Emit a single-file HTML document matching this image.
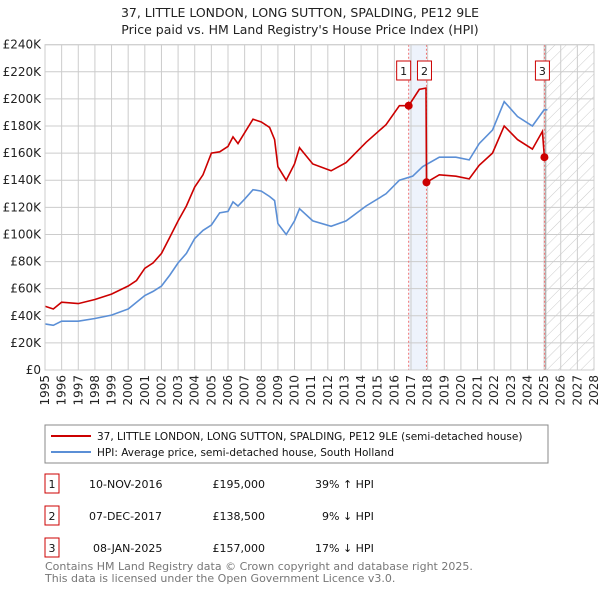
<!DOCTYPE html>
<html><head><meta charset="utf-8"><style>
body{margin:0;width:600px;height:590px;background:#fff;font-family:"DejaVu Sans","Liberation Sans",sans-serif;overflow:hidden}
svg text{font-family:"DejaVu Sans","Liberation Sans",sans-serif}
</style></head><body>
<svg id="c" width="600" height="590" xmlns="http://www.w3.org/2000/svg">
<defs><pattern id="hatch" width="8" height="8" patternUnits="userSpaceOnUse" patternTransform="rotate(45)"><line x1="0" y1="0" x2="0" y2="8" stroke="#ccc" stroke-width="1"/></pattern></defs>
<text x="300" y="17" text-anchor="middle" font-size="12.5" fill="#222">37, LITTLE LONDON, LONG SUTTON, SPALDING, PE12 9LE</text>
<text x="300" y="34" text-anchor="middle" font-size="12.5" fill="#222">Price paid vs. HM Land Registry's House Price Index (HPI)</text>
<g id="grid"></g><g id="marks"></g><g id="axes"></g>
<rect x="45" y="425" width="503" height="38" fill="#fff" stroke="#888"/>
<line x1="51" y1="436" x2="91" y2="436" stroke="#cc0000" stroke-width="2"/>
<text x="97" y="440" font-size="10.5" fill="#111">37, LITTLE LONDON, LONG SUTTON, SPALDING, PE12 9LE (semi-detached house)</text>
<line x1="51" y1="452" x2="91" y2="452" stroke="#5b8fd6" stroke-width="2"/>
<text x="97" y="456" font-size="10.5" fill="#111">HPI: Average price, semi-detached house, South Holland</text>
<g font-size="11" fill="#111">
<rect x="45" y="474" width="14" height="19" fill="none" stroke="#cc0000"/><text x="52" y="488" text-anchor="middle">1</text>
<text x="89" y="488">10-NOV-2016</text><text x="265" y="488" text-anchor="end">£195,000</text><text x="315" y="488">39% ↑ HPI</text>
<rect x="45" y="506" width="14" height="19" fill="none" stroke="#cc0000"/><text x="52" y="520" text-anchor="middle">2</text>
<text x="89" y="520">07-DEC-2017</text><text x="265" y="520" text-anchor="end">£138,500</text><text x="322" y="520">9% ↓ HPI</text>
<rect x="45" y="538" width="14" height="19" fill="none" stroke="#cc0000"/><text x="52" y="552" text-anchor="middle">3</text>
<text x="93" y="552">08-JAN-2025</text><text x="265" y="552" text-anchor="end">£157,000</text><text x="315" y="552">17% ↓ HPI</text>
</g>
<text x="45" y="570" font-size="11" fill="#777">Contains HM Land Registry data © Crown copyright and database right 2025.</text>
<text x="45" y="582" font-size="11" fill="#777">This data is licensed under the Open Government Licence v3.0.</text>
</svg>
<script>
const hpiYears=[1995,1995.5,1996,1997,1998,1999,2000,2001,2001.5,2002,2002.5,2003,2003.5,2004,2004.5,2005,2005.5,2006,2006.3,2006.6,2007,2007.5,2008,2008.5,2008.8,2009,2009.5,2010,2010.3,2011.1,2012.2,2013.1,2014.3,2015.5,2016.3,2017.1,2017.7,2018.7,2019.7,2020.5,2021.1,2021.9,2022.6,2023.4,2024.3,2025.0,2025.2];
const hpiValues=[34,33,36,36,38,40.5,45,55,58,62,70,79,86,97,103,107,116,117,124,121,126,133,132,128,125,108,100,110,119,110,106,110,121,130,140,143,150,157,157,155,167,177,198,187,180,192,192];
const priceYears=[1995,1995.5,1996,1997,1998,1999,2000,2000.5,2001,2001.5,2002,2002.5,2003,2003.5,2004,2004.5,2005,2005.5,2006,2006.3,2006.6,2007,2007.5,2008,2008.5,2008.8,2009,2009.5,2010,2010.3,2011.1,2012.2,2013.1,2014.3,2015.5,2016.3,2016.86,2017.5,2017.9,2017.93,2018.7,2019.7,2020.5,2021.1,2021.9,2022.6,2023.4,2024.3,2024.9,2025.02,2025.2];
const priceValues=[47,45,50,49,52,56,62,66,75,79,86,98,110,121,135,144,160,161,165,172,167,175,185,183,179,170,150,140,152,164,152,147,153,168,181,195,195,207,208,138.5,144,143,141,151,160,180,170,163,176,157,157];
const saleYears=[2016.86,2017.93,2025.02];
const saleValues=[195,138.5,157];
const saleLabels=["1","2","3"];
const yTicks=[0,20,40,60,80,100,120,140,160,180,200,220,240];
const xTicks=[1995,1996,1997,1998,1999,2000,2001,2002,2003,2004,2005,2006,2007,2008,2009,2010,2011,2012,2013,2014,2015,2016,2017,2018,2019,2020,2021,2022,2023,2024,2025,2026,2027,2028];
const NS="http://www.w3.org/2000/svg";
const X0=45,X1=594,Y0=370,Y1=44.7;
const xs=y=>X0+(y-1995)/(2028-1995)*(X1-X0);
const ys=v=>Y0-v/240*(Y0-Y1);
function mk(tag,attrs,parent){const e=document.createElementNS(NS,tag);for(const k in attrs)e.setAttribute(k,attrs[k]);parent.appendChild(e);return e;}
const grid=document.getElementById('grid'),marks=document.getElementById('marks'),axes=document.getElementById('axes');
let r=mk('rect',{x:xs(saleYears[0]),y:Y1,width:xs(saleYears[1])-xs(saleYears[0]),height:Y0-Y1,fill:'#eef3fc'},grid);


let h=mk('rect',{x:xs(2025.1),y:Y1,width:X1-xs(2025.1),height:Y0-Y1,fill:'url(#hatch)'},grid);


yTicks.forEach(t=>{
  mk('line',{x1:X0,x2:X1,y1:ys(t),y2:ys(t),stroke:'#ccc'},grid);
  const tx=mk('text',{x:X0-4,y:ys(t)+4,'text-anchor':'end','font-size':'12',fill:'#222'},axes);
  tx.textContent=t===0?'£0':'£'+t+'K';
  
  
});
xTicks.forEach(t=>{
  mk('line',{x1:xs(t),x2:xs(t),y1:Y1,y2:Y0,stroke:'#ccc'},grid);
  const tx=mk('text',{transform:`translate(${xs(t)+4},${Y0+5}) rotate(-90)`,'text-anchor':'end','font-size':'12',fill:'#222'},axes);
  tx.textContent=t;
  
  
});
mk('line',{x1:xs(2025.1),x2:xs(2025.1),y1:Y1,y2:Y0,stroke:'#999'},grid);
saleYears.forEach(s=>{const l=mk('line',{x1:xs(s),x2:xs(s),y1:Y1,y2:Y0,stroke:'#f07070','stroke-dasharray':'2,2'},grid);

});
const pth=(xa,va)=>xa.map((y,i)=>(i?'L':'M')+xs(y).toFixed(1)+','+ys(va[i]).toFixed(1)).join('');
const hp=mk('path',{d:pth(hpiYears,hpiValues),fill:'none',stroke:'#5b8fd6','stroke-width':1.6},marks);


const pp=mk('path',{d:pth(priceYears,priceValues),fill:'none',stroke:'#cc0000','stroke-width':1.6},marks);


saleYears.forEach((s,i)=>{
  const c=mk('circle',{cx:xs(s),cy:ys(saleValues[i]),r:4,fill:'#cc0000'},marks);
  
  
  const bx=i===0?xs(s)-12:xs(s)-9;
  const b=mk('rect',{x:bx,y:61,width:14,height:19,fill:'#fff',stroke:'#cc0000'},marks);
  
  
  const t=mk('text',{x:bx+7,y:75,'text-anchor':'middle','font-size':'11',fill:'#111'},marks);
  t.textContent=saleLabels[i];
  
  
});
mk('rect',{x:X0,y:Y1,width:X1-X0,height:Y0-Y1,fill:'none',stroke:'#ccc'},axes);
</script>
</body></html>
